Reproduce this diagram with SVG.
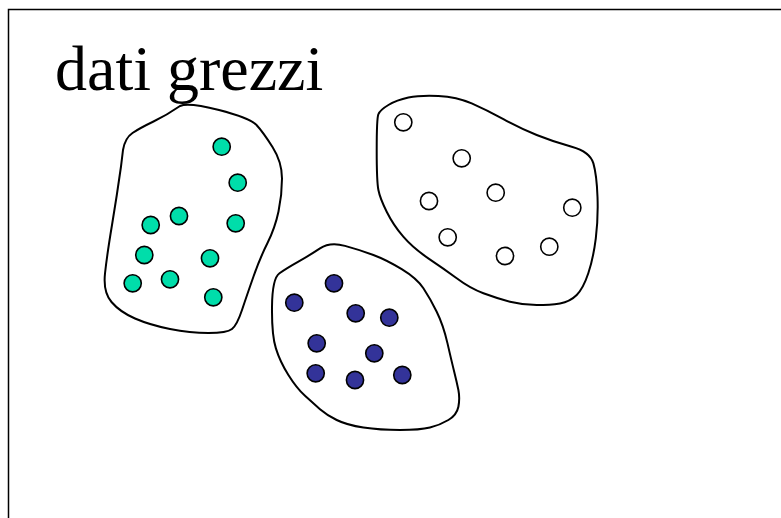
<svg xmlns="http://www.w3.org/2000/svg" width="781" height="518" viewBox="0 0 781 518">
<style>
.blob{fill:none;stroke:#000;stroke-width:2;stroke-linejoin:round}
.g{fill:#00DDAA;stroke:#000;stroke-width:1.6}
.b{fill:#333399;stroke:#000;stroke-width:1.6}
.w{fill:#fff;stroke:#000;stroke-width:1.6}
.t{font-family:"Liberation Serif","Times New Roman",serif;font-size:64px;fill:#000}
</style>
<rect x="0" y="0" width="781" height="518" fill="#fff"/>
<rect x="8.5" y="9.5" width="800" height="530" fill="none" stroke="#000" stroke-width="1.5"/>
<text class="t" x="55" y="90">dati grezzi</text>
<g id="cluster-green">
<path class="blob" d="M219,110 Q250,118 256.5,125 Q263,132 272.5,147 Q282,162 282,178.5 Q282,195 278.5,211.5 Q275,228 267.5,243 Q260,258 253.5,276.5 Q247,295 242,310 Q237,325 232,329 Q227,333 208.5,333 Q190,333 170,329 Q150,325 135,318.5 Q120,312 111.5,302 Q103,292 105,273.5 Q107,255 112,225 Q117,195 121,166.5 L123,150 Q125,138 132.5,133 Q140,128 153.5,121.5 Q167,115 180,106 Q188,102 219,110 Z"/>
<circle class="g" cx="221.7" cy="146.7" r="8.6"/>
<circle class="g" cx="237.7" cy="182.7" r="8.6"/>
<circle class="g" cx="179" cy="216" r="8.6"/>
<circle class="g" cx="150.7" cy="225" r="8.6"/>
<circle class="g" cx="235.7" cy="223.3" r="8.6"/>
<circle class="g" cx="144.3" cy="255" r="8.6"/>
<circle class="g" cx="210" cy="258.3" r="8.6"/>
<circle class="g" cx="132.7" cy="283.3" r="8.6"/>
<circle class="g" cx="170" cy="279.3" r="8.6"/>
<circle class="g" cx="213.3" cy="297.3" r="8.6"/>
</g>
<g id="cluster-blue">
<path class="blob" d="M345,245.9 Q360,250 373.4,255 Q386.7,260 401.7,269.2 Q416.7,278.3 423.4,288.3 Q430,298.3 436.7,311.7 Q443.3,325 447.5,343.4 Q451.7,361.7 454.2,371.7 Q456.7,381.7 458.4,390 Q460,398.3 458.4,406.7 Q456.7,415 448.4,420 Q440,425 430,427.5 Q420,430 400,430 Q380,430 363.4,427.5 Q346.7,425 336.7,420 Q326.7,415 320,409.2 Q313.3,403.3 305,395.8 Q296.7,388.3 288.4,375 Q280,361.7 275.9,348.4 Q271.7,335 272,306.7 Q272.3,278.3 279.5,273.3 Q286.7,268.3 298.4,261.7 Q310,255 320,248.4 Q330,241.7 345,245.9 Z"/>
<circle class="b" cx="334" cy="283.3" r="8.6"/>
<circle class="b" cx="294.3" cy="302.7" r="8.6"/>
<circle class="b" cx="355.7" cy="313.3" r="8.6"/>
<circle class="b" cx="389.3" cy="317.7" r="8.6"/>
<circle class="b" cx="316.7" cy="343.3" r="8.6"/>
<circle class="b" cx="374.3" cy="353.3" r="8.6"/>
<circle class="b" cx="315.7" cy="373.3" r="8.6"/>
<circle class="b" cx="355" cy="380" r="8.6"/>
<circle class="b" cx="402.3" cy="375" r="8.6"/>
</g>
<g id="cluster-white">
<path class="blob" d="M388.4,105 Q396.7,100 408.4,97.5 Q420,95 438.4,95.9 Q456.7,96.7 471.7,103.4 Q486.7,110 503.4,119.2 Q520,128.3 536.7,135 Q553.3,141.7 571.7,146.7 Q590,151.7 593.4,163.4 Q596.7,175 597.5,196.7 Q598.3,218.3 595.8,238.3 Q593.3,258.3 588.3,273.3 Q583.3,288.3 576.7,295 Q570,301.7 560,303.4 Q550,305 536.7,305 Q523.3,305 510,301.7 Q496.7,298.3 483.4,293.3 Q470,288.3 456.7,278.3 Q443.3,268.3 428.3,258.3 Q413.3,248.3 403.3,236.7 Q393.3,225 386.7,211.7 Q380,198.3 378.4,190 Q376.7,181.7 376.7,150 Q376.7,118.3 378.4,114.2 Q380,110 388.4,105 Z"/>
<circle class="w" cx="403.3" cy="122.3" r="8.6"/>
<circle class="w" cx="461.7" cy="158.3" r="8.6"/>
<circle class="w" cx="495.7" cy="192.7" r="8.6"/>
<circle class="w" cx="429" cy="201" r="8.6"/>
<circle class="w" cx="572.3" cy="207.7" r="8.6"/>
<circle class="w" cx="447.7" cy="237.3" r="8.6"/>
<circle class="w" cx="505" cy="256" r="8.6"/>
<circle class="w" cx="549.3" cy="246.7" r="8.6"/>
</g>
</svg>
